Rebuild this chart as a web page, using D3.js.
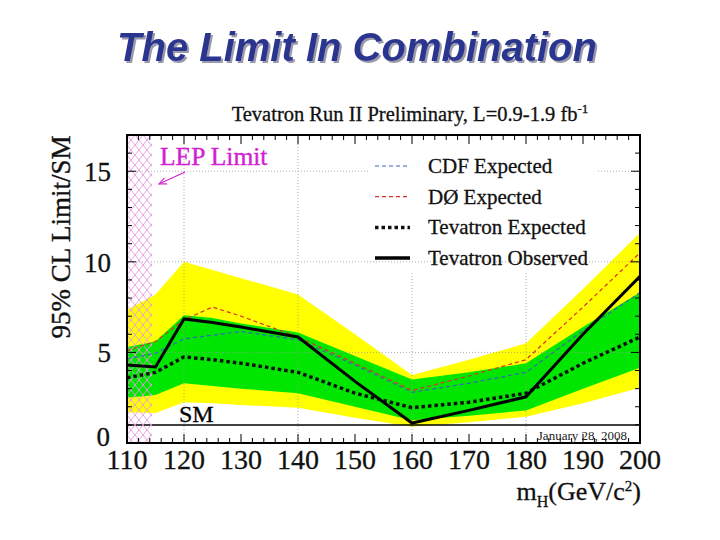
<!DOCTYPE html>
<html><head><meta charset="utf-8">
<script src="https://cdn.jsdelivr.net/npm/d3@7"></script>
<style>body{margin:0;background:#fff}svg{display:block}</style>
</head><body>
<svg id="c" width="720" height="540"></svg>
<script>
const masses      = [110, 115, 120, 125, 130, 140, 150, 160, 170, 180, 190, 200];
const observed    = [4.3, 4.2, 6.85, 6.65, 6.4, 5.85, 3.4, 1.1, 1.8, 2.55, 6.0, 9.2];
const tevExpected = [3.6, 3.9, 4.75, 4.6, 4.4, 3.9, 2.75, 1.95, 2.25, 2.75, 4.4, 5.85];
const cdfExpected = [4.65, 4.95, 5.75, 5.95, 6.15, 5.7, 4.3, 2.8, 3.3, 3.9, 6.2, 8.3];
const d0Expected  = [5.1, 5.6, 6.8, 7.5, 7.0, 5.85, 4.4, 2.9, 3.7, 4.6, 7.5, 10.5];
const green1Hi    = [5.3, 5.6, 7.05, 6.9, 6.6, 6.1, 4.8, 3.5, 3.9, 4.4, 6.4, 8.3];
const green1Lo    = [2.5, 2.65, 3.3, 3.15, 3.0, 2.75, 2.0, 1.25, 1.5, 1.8, 3.0, 4.15];
const yellow2Hi   = [7.35, 8.2, 10.0, 9.55, 9.1, 8.2, 6.0, 3.75, 4.6, 5.5, 8.5, 11.6];
const yellow2Lo   = [1.7, 1.65, 2.25, 2.2, 2.1, 1.95, 1.4, 0.9, 1.15, 1.45, 2.2, 3.05];
const xTicks = [110, 120, 130, 140, 150, 160, 170, 180, 190, 200];
const yTicks = [0, 5, 10, 15];
const lepLimit = 114.4;
const legendLabels = ["CDF Expected", "D\u00D8 Expected", "Tevatron Expected", "Tevatron Observed"];

const svg = d3.select("#c");
const serif = "'Liberation Serif','Times New Roman',serif";
const L = 127, R = 640, T = 135, B = 443;
const x = d3.scaleLinear().domain([110, 200]).range([L, R]);
const y = d3.scaleLinear().domain([0, 17]).range([B, T]);

const defs = svg.append("defs");
const sh = defs.append("filter").attr("id", "shadow").attr("x", "-5%").attr("y", "-20%").attr("width", "110%").attr("height", "150%");
sh.append("feDropShadow").attr("dx", 2).attr("dy", 2).attr("stdDeviation", 0.6).attr("flood-color", "#9a9aaa").attr("flood-opacity", 1);

// main title with shadow
svg.append("text").attr("x", 357).attr("y", 61).attr("text-anchor", "middle")
  .attr("font-family", "'Liberation Sans',Arial,sans-serif").attr("font-weight", "bold").attr("font-style", "italic")
  .attr("font-size", 40).attr("fill", "#2b3590").attr("filter", "url(#shadow)").text("The Limit In Combination");

// plot subtitle
const sub = svg.append("text").attr("x", 410).attr("y", 121).attr("text-anchor", "middle")
  .attr("font-family", serif).attr("font-size", 20.5).attr("fill", "#111").attr("stroke", "#111").attr("stroke-width", 0.3);
sub.append("tspan").text("Tevatron Run II Preliminary, L=0.9-1.9 fb");
sub.append("tspan").attr("dy", -8).attr("font-size", 13).text("-1");

const pat = defs.append("pattern").attr("id", "hatch").attr("patternUnits", "userSpaceOnUse")
  .attr("width", 8).attr("height", 10).attr("x", L).attr("y", T);
pat.append("path").attr("d", "M0,0L8,10M8,0L0,10").attr("stroke", "#e59ae0").attr("stroke-width", 0.9).attr("fill", "none");
defs.append("clipPath").attr("id", "clip").append("rect").attr("x", L).attr("y", T).attr("width", R - L).attr("height", B - T);

const g = svg.append("g").attr("clip-path", "url(#clip)");

// bands
const areaGen = (hi, lo) => d3.area().x((d, i) => x(masses[i])).y0((d, i) => y(lo[i])).y1((d, i) => y(hi[i]))(masses);
g.append("path").attr("d", areaGen(yellow2Hi, yellow2Lo)).attr("fill", "#ffff00");
g.append("path").attr("d", areaGen(green1Hi, green1Lo)).attr("fill", "#00e600");

// grid
const gridStyle = s => s.attr("stroke", "#9a9a9a").attr("stroke-width", 0.8).attr("stroke-dasharray", "1,2").attr("fill", "none");
[120, 140, 160, 180].forEach(v => gridStyle(g.append("line").attr("x1", x(v)).attr("x2", x(v)).attr("y1", T).attr("y2", B)));
[5, 15].forEach(v => gridStyle(g.append("line").attr("x1", L).attr("x2", R).attr("y1", y(v)).attr("y2", y(v))));

// legend background
g.append("rect").attr("x", 368).attr("y", T + 2).attr("width", 229).attr("height", 136).attr("fill", "#fff");
gridStyle(g.append("line").attr("x1", L).attr("x2", R).attr("y1", y(10)).attr("y2", y(10)));

// SM line
g.append("line").attr("x1", L).attr("x2", R).attr("y1", y(1)).attr("y2", y(1)).attr("stroke", "#000").attr("stroke-width", 1.5);

// LEP hatch
g.append("rect").attr("x", L).attr("y", T).attr("width", x(lepLimit) - L).attr("height", B - T).attr("fill", "url(#hatch)");

// lines
const lineGen = vals => d3.line().x((d, i) => x(masses[i])).y((d, i) => y(vals[i]))(masses);
g.append("path").attr("d", lineGen(cdfExpected)).attr("fill", "none").attr("stroke", "#3a66b8").attr("stroke-width", 1.2).attr("stroke-dasharray", "4,3");
g.append("path").attr("d", lineGen(d0Expected)).attr("fill", "none").attr("stroke", "#e0302a").attr("stroke-width", 1.2).attr("stroke-dasharray", "4,3");
g.append("path").attr("d", lineGen(tevExpected)).attr("fill", "none").attr("stroke", "#111").attr("stroke-width", 3.5).attr("stroke-dasharray", "3.5,3");
g.append("path").attr("d", lineGen(observed)).attr("fill", "none").attr("stroke", "#000").attr("stroke-width", 3);

// legend entries
const legStyles = [
  {c: "#3a66b8", w: 1.2, d: "4,3"},
  {c: "#e0302a", w: 1.2, d: "4,3"},
  {c: "#111", w: 3.5, d: "3.5,3"},
  {c: "#000", w: 3.5, d: null}
];
legendLabels.forEach((lab, i) => {
  const yy = 166 + i * 30.7;
  const ln = svg.append("line").attr("x1", 375).attr("x2", 410).attr("y1", yy).attr("y2", yy)
    .attr("stroke", legStyles[i].c).attr("stroke-width", legStyles[i].w);
  if (legStyles[i].d) ln.attr("stroke-dasharray", legStyles[i].d);
  svg.append("text").attr("x", 428).attr("y", yy + 7).attr("font-family", serif).attr("font-size", 21)
    .attr("fill", "#111").attr("stroke", "#111").attr("stroke-width", 0.3).text(lab);
});

// frame
svg.append("rect").attr("x", L).attr("y", T).attr("width", R - L).attr("height", B - T).attr("fill", "none").attr("stroke", "#000").attr("stroke-width", 2);

// ticks
const tk = svg.append("g").attr("stroke", "#000").attr("stroke-width", 1);
d3.range(110, 201, 2).forEach(v => {
  const len = v % 10 === 0 ? 9 : 5;
  tk.append("line").attr("x1", x(v)).attr("x2", x(v)).attr("y1", B).attr("y2", B - len);
  tk.append("line").attr("x1", x(v)).attr("x2", x(v)).attr("y1", T).attr("y2", T + len);
});
d3.range(0, 18, 1).forEach(v => {
  const len = v % 5 === 0 ? 9 : 5;
  tk.append("line").attr("x1", L).attr("x2", L + len).attr("y1", y(v)).attr("y2", y(v));
  tk.append("line").attr("x1", R).attr("x2", R - len).attr("y1", y(v)).attr("y2", y(v));
});

// tick labels
xTicks.forEach(v => svg.append("text").attr("x", x(v)).attr("y", 469).attr("text-anchor", "middle")
  .attr("font-family", serif).attr("font-size", 28).attr("fill", "#111").attr("stroke", "#111").attr("stroke-width", 0.3).text(v));
yTicks.forEach(v => svg.append("text").attr("x", v === 0 ? 110 : 111).attr("y", v === 0 ? y(v) + 3 : y(v) + 10).attr("text-anchor", "end")
  .attr("font-family", serif).attr("font-size", 27).attr("fill", "#111").attr("stroke", "#111").attr("stroke-width", 0.3).text(v));

// axis labels
const xl = svg.append("text").attr("x", 641).attr("y", 500).attr("text-anchor", "end").attr("font-family", serif)
  .attr("font-size", 26).attr("fill", "#111").attr("stroke", "#111").attr("stroke-width", 0.3);
xl.append("tspan").text("m");
xl.append("tspan").attr("dy", 7).attr("font-size", 16).text("H");
xl.append("tspan").attr("dy", -7).text("(GeV/c");
xl.append("tspan").attr("dy", -9).attr("font-size", 15).text("2");
xl.append("tspan").attr("dy", 9).text(")");

svg.append("text").attr("transform", "translate(70,237) rotate(-90)").attr("text-anchor", "middle")
  .attr("font-family", serif).attr("font-size", 27).attr("fill", "#111").attr("stroke", "#111").attr("stroke-width", 0.4).text("95% CL Limit/SM");

// annotations
svg.append("text").attr("x", 160).attr("y", 165).attr("font-family", serif).attr("font-size", 25.5)
  .attr("fill", "#d21fd2").attr("stroke", "#d21fd2").attr("stroke-width", 0.4).text("LEP Limit");
defs.append("marker").attr("id", "arr").attr("viewBox", "0 0 10 10").attr("refX", 9).attr("refY", 5)
  .attr("markerWidth", 7).attr("markerHeight", 7).attr("orient", "auto")
  .append("path").attr("d", "M0,1L9,5L0,9").attr("fill", "none").attr("stroke", "#d21fd2").attr("stroke-width", 1.3);
svg.append("line").attr("x1", 185).attr("y1", 172).attr("x2", 159).attr("y2", 184).attr("stroke", "#d21fd2").attr("stroke-width", 1.2).attr("marker-end", "url(#arr)");
svg.append("text").attr("x", 179).attr("y", 422).attr("font-family", serif).attr("font-size", 24).attr("fill", "#000").attr("stroke", "#000").attr("stroke-width", 0.3).text("SM");
svg.append("text").attr("x", 627).attr("y", 440).attr("text-anchor", "end").attr("font-family", serif).attr("font-size", 13).attr("fill", "#222").text("January 28, 2008");
</script>
</body></html>
